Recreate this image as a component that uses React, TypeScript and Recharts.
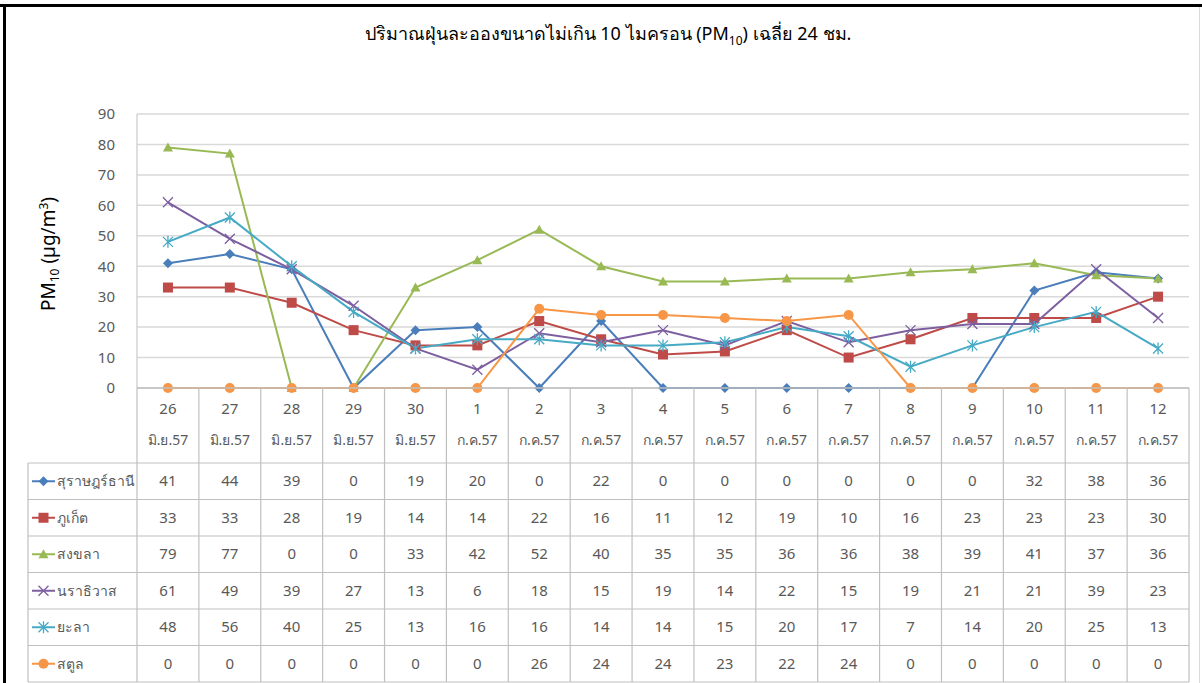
import React from "react";
import { LineChart, Line, XAxis, YAxis, CartesianGrid } from "recharts";

const days = ["26","27","28","29","30","1","2","3","4","5","6","7","8","9","10","11","12"];
const months = ["มิ.ย.57","มิ.ย.57","มิ.ย.57","มิ.ย.57","มิ.ย.57","ก.ค.57","ก.ค.57","ก.ค.57","ก.ค.57","ก.ค.57","ก.ค.57","ก.ค.57","ก.ค.57","ก.ค.57","ก.ค.57","ก.ค.57","ก.ค.57"];

const suratThani = [41,44,39,0,19,20,0,22,0,0,0,0,0,0,32,38,36];
const phuket = [33,33,28,19,14,14,22,16,11,12,19,10,16,23,23,23,30];
const songkhla = [79,77,0,0,33,42,52,40,35,35,36,36,38,39,41,37,36];
const narathiwat = [61,49,39,27,13,6,18,15,19,14,22,15,19,21,21,39,23];
const yala = [48,56,40,25,13,16,16,14,14,15,20,17,7,14,20,25,13];
const satun = [0,0,0,0,0,0,26,24,24,23,22,24,0,0,0,0,0];

const yTicks = [0,10,20,30,40,50,60,70,80,90];

const seriesNames = ["สุราษฎร์ธานี","ภูเก็ต","สงขลา","นราธิวาส","ยะลา","สตูล"];
const seriesValues = [suratThani, phuket, songkhla, narathiwat, yala, satun];
const seriesColors = ["#4A7EBB","#BE4B48","#98B954","#7D5FA0","#46AAC5","#F79646"];
const seriesShapes = ["diamond","square","triangle","x","star","circle"];
const keys = ["s0","s1","s2","s3","s4","s5"];

const data = days.map((d, i) => {
  const row: any = { cat: d + " " + months[i] };
  seriesValues.forEach((vals, k) => { row[keys[k]] = vals[i]; });
  return row;
});

const W = 1202, H = 683;
const PL = 137, PR = 1189, PT = 114, PB = 388;
const YW = 40;
const LEG_L = 28;
const colW = (PR - PL) / days.length;
const HEADER_B = 463;
const ROW_H = 36.5;
const FONT = "'Noto Sans', 'DejaVu Sans', Tahoma, sans-serif";
const TXT = "#595959";

function Marker({ shape, cx, cy, color }: any) {
  if (cx == null || cy == null) return null;
  switch (shape) {
    case "diamond":
      return <path d={`M${cx},${cy-5} L${cx+5},${cy} L${cx},${cy+5} L${cx-5},${cy} Z`} fill={color} />;
    case "square":
      return <rect x={cx-5} y={cy-5} width={10} height={10} fill={color} />;
    case "triangle":
      return <path d={`M${cx},${cy-5} L${cx+5},${cy+4} L${cx-5},${cy+4} Z`} fill={color} />;
    case "x":
      return <path d={`M${cx-5},${cy-5} L${cx+5},${cy+5} M${cx+5},${cy-5} L${cx-5},${cy+5}`} stroke={color} strokeWidth={1.3} fill="none" />;
    case "star":
      return <path d={`M${cx-5},${cy-5} L${cx+5},${cy+5} M${cx+5},${cy-5} L${cx-5},${cy+5} M${cx},${cy-6} L${cx},${cy+6}`} stroke={color} strokeWidth={1.3} fill="none" />;
    default:
      return <circle cx={cx} cy={cy} r={5} fill={color} />;
  }
}

export default function App() {
  const rowTop = (r: number) => HEADER_B + r * ROW_H;
  return (
    <div style={{ position: "relative", width: W, height: H, background: "#fff", fontFamily: FONT, overflow: "hidden" }}>
      <style>{`body{margin:0;background:#fff}`}</style>
      {/* frame */}
      <div style={{ position: "absolute", left: 0, top: 4, width: W, height: 3, background: "#000" }} />
      <div style={{ position: "absolute", left: 3, top: 4, width: 3, height: H, background: "#000" }} />
      <div style={{ position: "absolute", left: 1199, top: 7, width: 1, height: H, background: "#d9d9d9" }} />
      <div style={{ position: "absolute", left: 0, top: 19, width: 1216, textAlign: "center", fontSize: 18, color: "#000", whiteSpace: "nowrap" }}>
        ปริมาณฝุ่นละอองขนาดไม่เกิน 10 ไมครอน (PM<sub style={{ fontSize: 12 }}>10</sub>) เฉลี่ย 24 ชม.
      </div>
      <div style={{ position: "absolute", left: 0, top: 0 }}>
        <LineChart width={W} height={H} data={data} margin={{ top: PT, right: W - PR, bottom: H - PB, left: PL - YW }}>
          <CartesianGrid vertical={false} stroke="#D9D9D9" strokeWidth={1.5} />
          <XAxis dataKey="cat" scale="band" hide />
          <YAxis domain={[0, 90]} ticks={yTicks} width={YW} interval={0} axisLine={{ stroke: "#BFBFBF" }} tickLine={false}
            tickMargin={16} tick={{ fill: TXT, fontSize: 15, fontFamily: FONT }} />
          {keys.map((k, i) => (
            <Line key={k} dataKey={k} type="linear" stroke={seriesColors[i]} strokeWidth={2}
              isAnimationActive={false}
              dot={(p: any) => <Marker key={`${k}-${p.index}`} shape={seriesShapes[i]} cx={p.cx} cy={p.cy} color={seriesColors[i]} />}
              activeDot={false} />
          ))}
        </LineChart>
      </div>
      {/* Y axis title */}
      <svg width={W} height={H} style={{ position: "absolute", left: 0, top: 0, pointerEvents: "none" }}>
        <text transform="translate(55,254) rotate(-90)" textAnchor="middle" fontSize={19} fill="#000" fontFamily={FONT}>
          PM<tspan fontSize={12} dy={4}>10</tspan><tspan dy={-4}> (µg/m</tspan><tspan fontSize={12} dy={-7}>3</tspan><tspan dy={7}>)</tspan>
        </text>
        {/* table */}
        <line x1={PL} y1={PB} x2={PR} y2={PB} stroke="#BFBFBF" strokeWidth={1.5} />
        {Array.from({ length: days.length + 1 }).map((_, i) => (
          <line key={"v" + i} x1={PL + i * colW} y1={PB} x2={PL + i * colW} y2={rowTop(6)} stroke="#BFBFBF" strokeWidth={1.2} />
        ))}
        <line x1={LEG_L} y1={HEADER_B} x2={LEG_L} y2={rowTop(6)} stroke="#BFBFBF" strokeWidth={1.2} />
        {Array.from({ length: 7 }).map((_, r) => (
          <line key={"h" + r} x1={LEG_L} y1={rowTop(r)} x2={PR} y2={rowTop(r)} stroke="#BFBFBF" strokeWidth={1.2} />
        ))}
        {days.map((d, i) => (
          <g key={"hd" + i}>
            <text x={PL + (i + 0.5) * colW} y={414} textAnchor="middle" fontSize={15} fill={TXT} fontFamily={FONT}>{d}</text>
            <text x={PL + (i + 0.5) * colW} y={445} textAnchor="middle" fontSize={14} fill={TXT} fontFamily={FONT}>{months[i]}</text>
          </g>
        ))}
        {seriesNames.map((name, r) => {
          const cy = rowTop(r) + ROW_H / 2;
          return (
            <g key={"row" + r}>
              <line x1={32} y1={cy} x2={55} y2={cy} stroke={seriesColors[r]} strokeWidth={2} />
              <Marker shape={seriesShapes[r]} cx={43.5} cy={cy} color={seriesColors[r]} />
              <text x={57} y={cy + 5} fontSize={14} fill={TXT} fontFamily={FONT}>{name}</text>
              {seriesValues[r].map((v, i) => (
                <text key={i} x={PL + (i + 0.5) * colW} y={cy + 5} textAnchor="middle" fontSize={15} fill={TXT} fontFamily={FONT}>{v}</text>
              ))}
            </g>
          );
        })}
      </svg>
    </div>
  );
}
